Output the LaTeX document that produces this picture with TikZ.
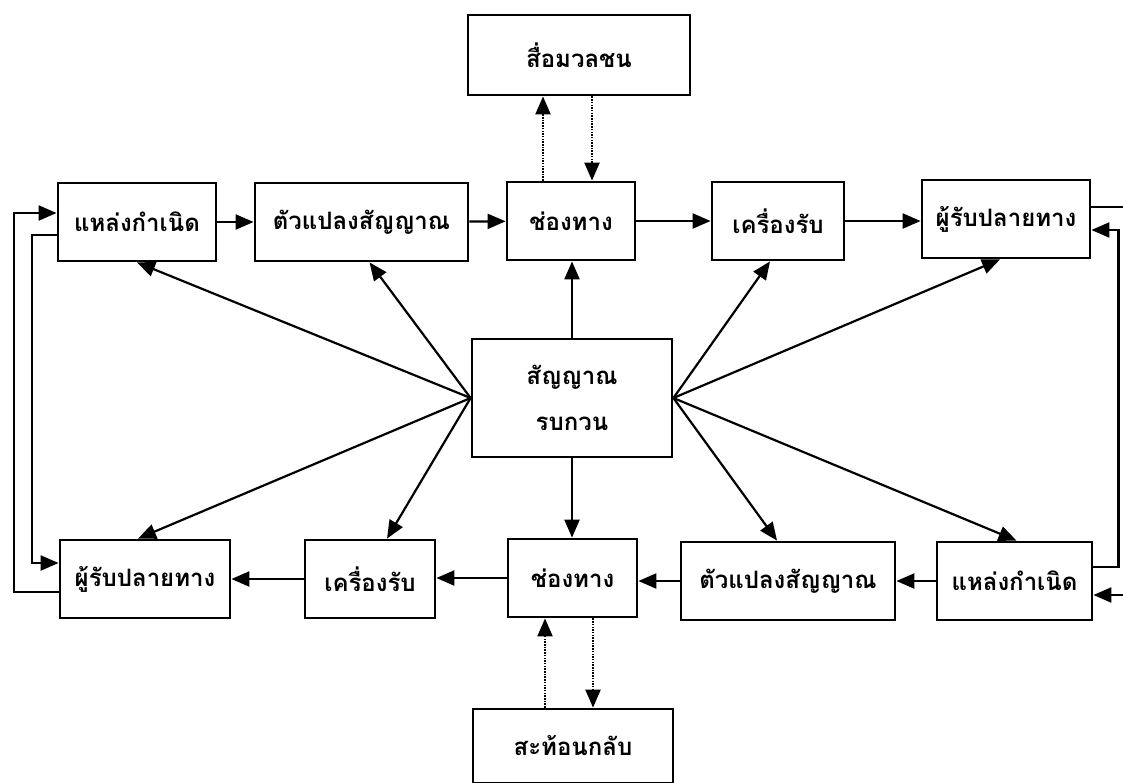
\documentclass[tikz,border=0pt]{standalone}
\usepackage{fontspec}
\newfontfamily\thaifont[Script=Thai]{Loma}
\usetikzlibrary{arrows.meta,calc}
\begin{document}
\begin{tikzpicture}[x=1pt,y=-1pt,
  box/.style={draw,line width=2.8pt,minimum height=78pt,inner sep=0pt,
    font=\thaifont\bfseries\fontsize{24}{29}\selectfont},
  arr/.style={line width=2.2pt,-{Triangle[length=18pt,width=15pt]}},
  plain/.style={line width=2.2pt},
  dotarr/.style={line width=2.2pt,dash pattern=on 1.5pt off 1.2pt,
    -{Triangle[length=18pt,width=15pt]}}]
\useasboundingbox (0,0) rectangle (1123,782);
\coordinate (redge) at (1123,0);

% upper chain
\node[box,minimum width=158pt] (tA) at (137,222) {แหล่งกำเนิด};
\node[box,minimum width=213pt] (tB) at (361.5,222) {ตัวแปลงสัญญาณ};
\node[box,minimum width=128pt] (tC) at (571,221) {ช่องทาง};
\node[box,minimum width=132pt] (tD) at (778,221) {เครื่องรับ};
\node[box,minimum width=168pt] (tE) at (1006,219) {ผู้รับปลายทาง};

% lower chain
\node[box,minimum width=170pt] (bA) at (145,579) {ผู้รับปลายทาง};
\node[box,minimum width=130pt] (bB) at (370,579) {เครื่องรับ};
\node[box,minimum width=129pt] (bC) at (572.5,578) {ช่องทาง};
\node[box,minimum width=214pt] (bD) at (788,581) {ตัวแปลงสัญญาณ};
\node[box,minimum width=155pt] (bE) at (1014.5,581) {แหล่งกำเนิด};

% noise source
\node[box,minimum width=200pt,minimum height=118pt,align=center] (c) at (572,398)
  {สัญญาณ\\[17pt]รบกวน};

% mass media and feedback
\node[box,minimum width=222pt,minimum height=80pt] (m) at (579,55) {สื่อมวลชน};
\node[box,minimum width=200pt,minimum height=74pt] (f) at (573,746) {สะท้อนกลับ};

% forward flows
\draw[arr] (tA) -- (tB);
\draw[arr] (tB) -- (tC);
\draw[arr] (tC) -- (tD);
\draw[arr] (tD.east) -- (tD.east -| tE.west);
\draw[arr] (bE.west) -- (bE.west -| bD.east);
\draw[arr] (bD.west) -- (bD.west -| bC.east);
\draw[arr] (bC.west) -- (bC.west -| bB.east);
\draw[arr] (bB.west) -- (bB.west -| bA.east);

% noise spokes
\draw[arr] (c.north) -- (c.north |- tC.south);
\draw[arr] (c.south) -- (c.south |- bC.north);
\draw[arr] (c.west) -- (tA.south);
\draw[arr] (c.west) -- ([xshift=8pt]tB.south);
\draw[arr] (c.west) -- ([xshift=-7pt]bA.north);
\draw[arr] (c.west) -- ([xshift=17pt]bB.north);
\draw[arr] (c.east) -- ([xshift=-8pt]tD.south);
\draw[arr] (c.east) -- ([xshift=-6pt]tE.south);
\draw[arr] (c.east) -- ([xshift=-11pt]bD.north);
\draw[arr] (c.east) -- ([xshift=2pt]bE.north);

% dotted links to media and feedback
\draw[dotarr] ([xshift=-28pt]tC.north) -- ([xshift=-28pt]tC.north |- m.south);
\draw[dotarr] ([xshift=21pt]tC.north |- m.south) -- ([xshift=21pt]tC.north);
\draw[dotarr] ([xshift=-27.5pt]bC.north |- f.north) -- ([xshift=-27.5pt]bC.south);
\draw[dotarr] ([xshift=20.5pt]bC.south) -- ([xshift=20.5pt]bC.south |- f.north);

% left return loops
\draw[arr] ([yshift=-13pt]bA.west) -- ++(-45,0) |- ([yshift=9pt]tA.west);
\draw[arr] ([yshift=-13pt]tA.west) -- ++(-25,0) |- ([yshift=16pt]bA.west);

% right return loops
\draw[arr] ([yshift=14pt]bE.east) -- ++(25,0) |- ([yshift=-11pt]tE.east);
\draw[plain] ([yshift=12pt]tE.east) -- ([yshift=12pt]tE.east -| redge);
\draw[arr] ([yshift=-14pt]bE.east -| redge) -- ([yshift=-14pt]bE.east);
\end{tikzpicture}
\end{document}
